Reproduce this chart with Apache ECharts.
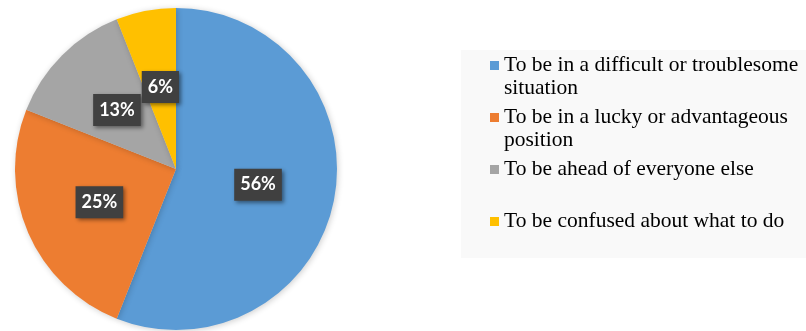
<!DOCTYPE html>
<html>
<head>
<meta charset="utf-8">
<script src="https://cdn.jsdelivr.net/npm/echarts@6/dist/echarts.min.js"></script>
<style>
html,body{margin:0;padding:0;background:#fff;}
#c{width:806px;height:331px;}
</style>
</head>
<body>
<div id="c"></div>
<script>
var categories = [
  'To be in a difficult or troublesome situation',
  'To be in a lucky or advantageous position',
  'To be ahead of everyone else',
  'To be confused about what to do'
];
var legendLines = [
  ['To be in a difficult or troublesome', 'situation'],
  ['To be in a lucky or advantageous', 'position'],
  ['To be ahead of everyone else', ' '],
  ['To be confused about what to do', ' ']
];
var values = [56, 25, 13, 6];
var colors = ['#5B9BD5', '#ED7D31', '#A5A5A5', '#FFC000'];

var chart = echarts.init(document.getElementById('c'), null, {renderer: 'canvas'});
var data = categories.map(function (n, i) {
  return {name: n, value: values[i], itemStyle: {color: colors[i]}};
});
chart.setOption({
  animation: false,
  graphic: [{
    type: 'rect', z: -10,
    shape: {x: 461, y: 50, width: 345, height: 208},
    style: {fill: '#f9f9f9'}
  }],
  legend: {
    orient: 'vertical',
    left: 490,
    top: 31,
    padding: 0,
    itemWidth: 9,
    itemHeight: 9,
    itemGap: -17,
    icon: 'rect',
    selectedMode: false,
    data: categories,
    formatter: function (name) {
      var i = categories.indexOf(name);
      return ' \n' + legendLines[i][0] + '\n' + legendLines[i][1];
    },
    textStyle: {
      fontFamily: 'Liberation Serif',
      fontSize: 21.5,
      lineHeight: 23,
      color: '#000'
    }
  },
  series: [{
    type: 'pie',
    center: [176, 169],
    radius: 161,
    startAngle: 90,
    clockwise: true,
    silent: true,
    data: data,
    itemStyle: {
      shadowBlur: 6,
      shadowColor: 'rgba(0,0,0,0.2)',
      shadowOffsetX: 1,
      shadowOffsetY: 1
    },
    label: {
      show: true,
      position: 'inside',
      formatter: '{c}%',
      color: '#fff',
      fontFamily: 'Lato',
      fontWeight: 'bold',
      fontSize: 18,
      lineHeight: 20,
      backgroundColor: '#404040',
      padding: [6, 6],
      shadowColor: 'rgba(0,0,0,0.45)',
      shadowBlur: 4,
      shadowOffsetX: 2,
      shadowOffsetY: 2
    },
    labelLine: {show: false}
  }]
});
</script>
</body>
</html>
